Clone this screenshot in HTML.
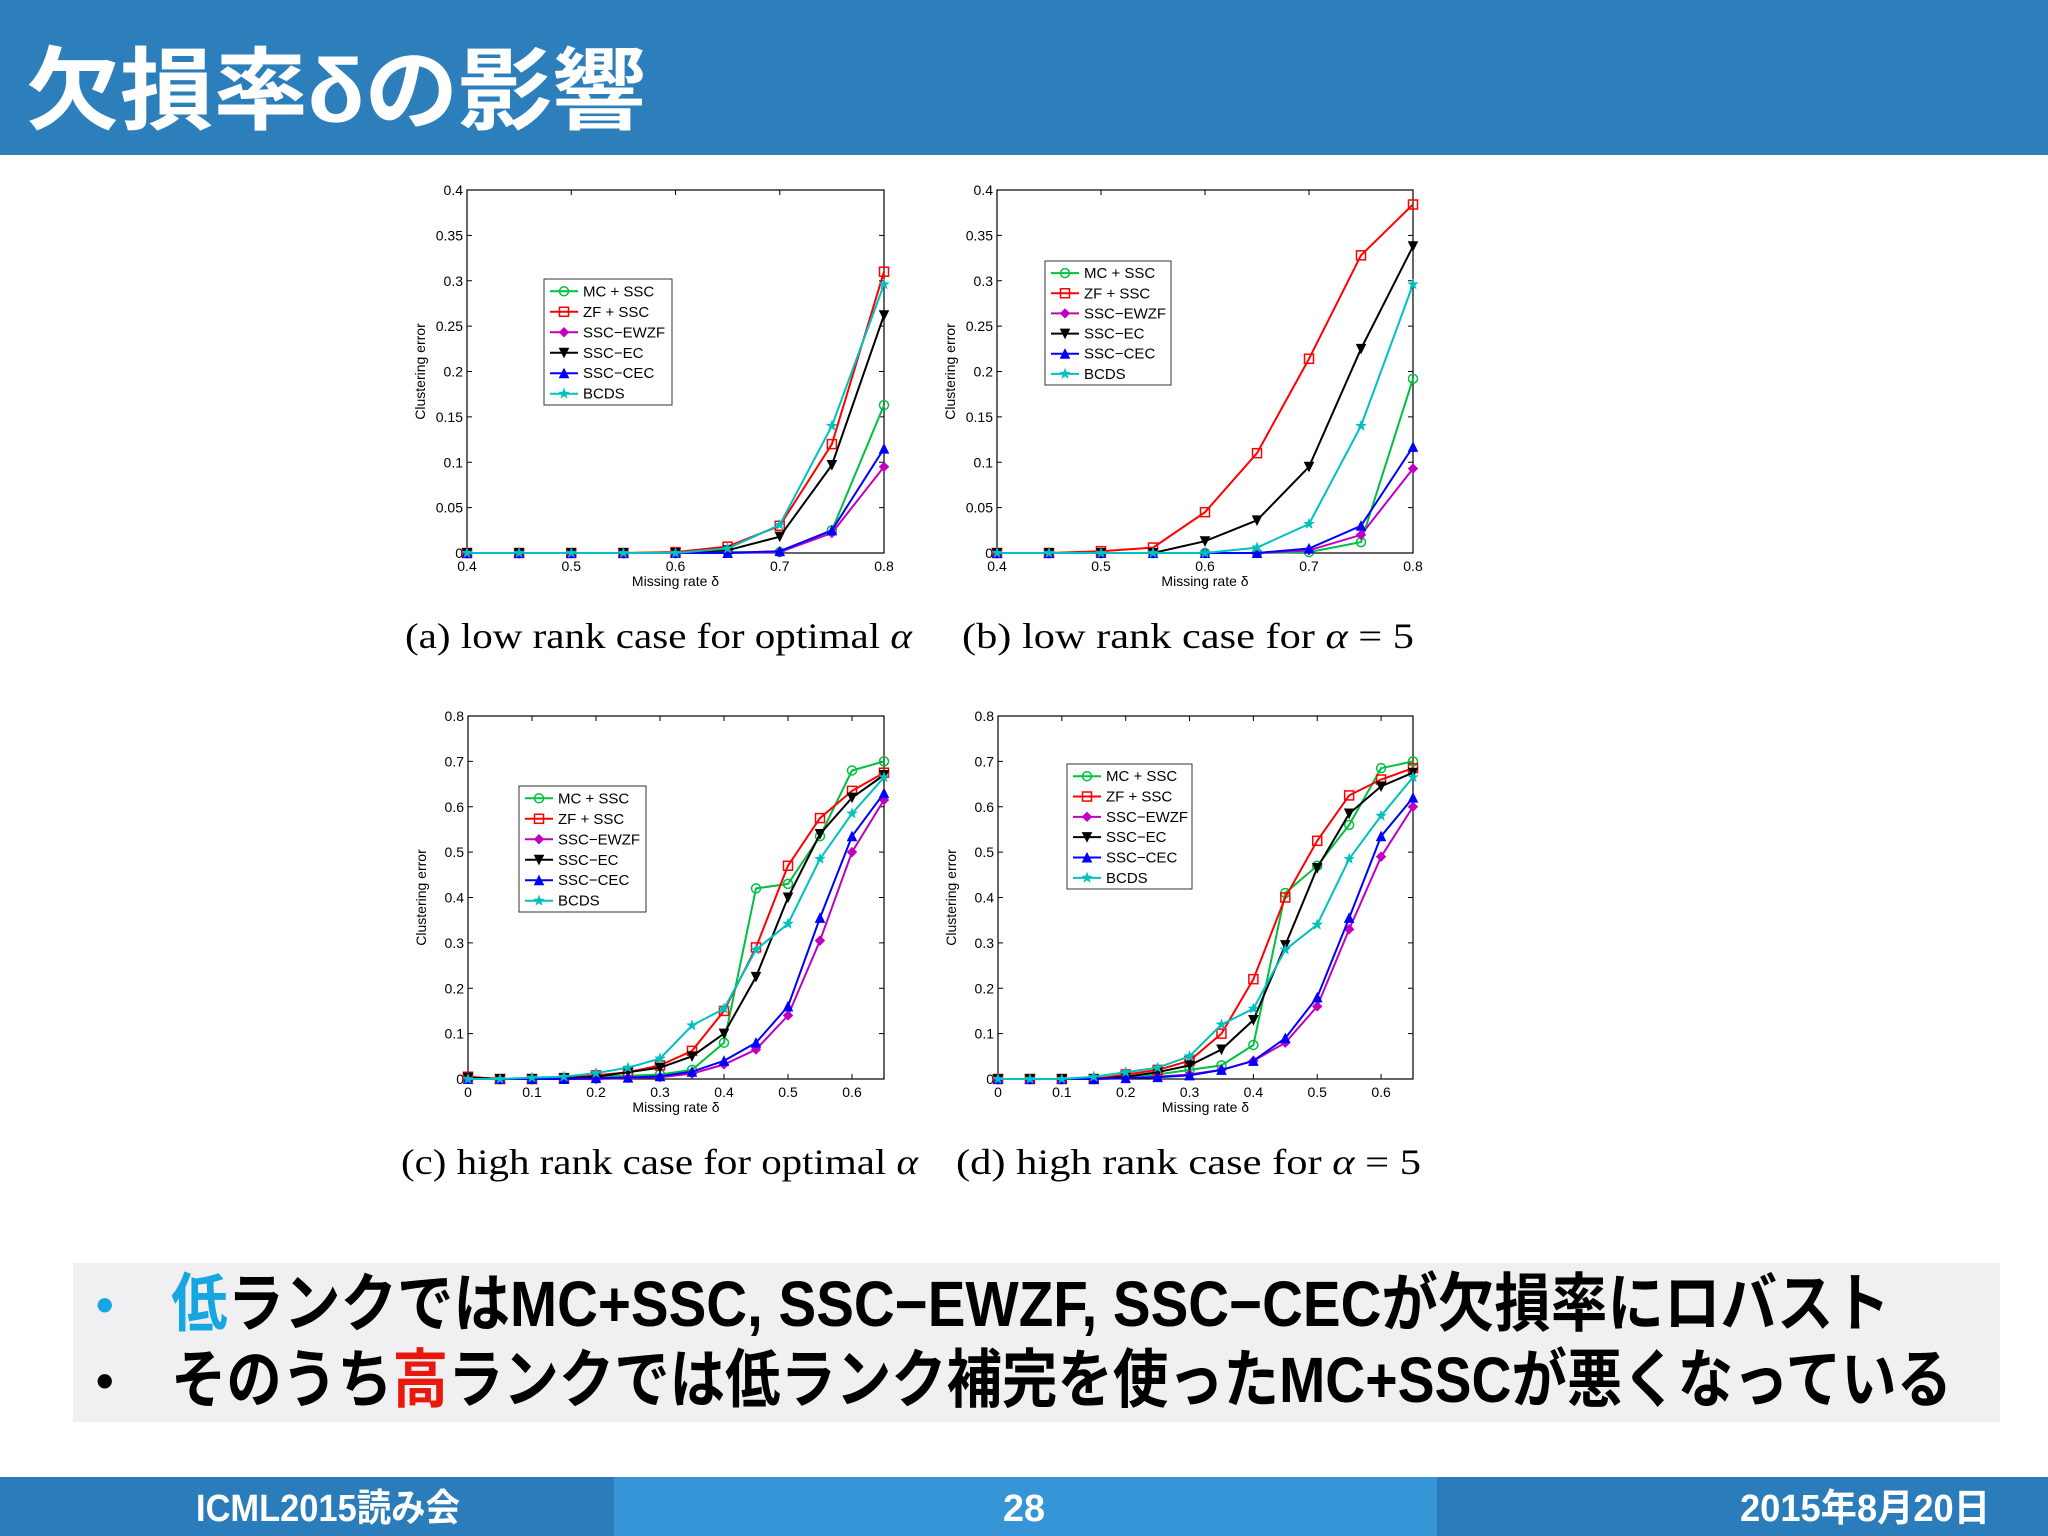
<!DOCTYPE html>
<html><head><meta charset="utf-8"><style>
html,body{margin:0;padding:0;background:#fff;}
svg{display:block;}
.jp{font-family:"Liberation Sans","Noto Sans CJK JP",sans-serif;font-weight:bold;}
.ax{font-family:"Liberation Sans",sans-serif;}
.cap{font-family:"Liberation Serif",serif;}
</style></head><body>
<svg id="s" width="2048" height="1536" viewBox="0 0 2048 1536" xmlns="http://www.w3.org/2000/svg">
<rect x="0" y="0" width="2048" height="155" fill="#2d7fbc"/>
<text class="jp" x="26" y="122" font-size="90" fill="#fff" textLength="620" lengthAdjust="spacingAndGlyphs">欠損率δの影響</text>
<rect x="73" y="1263" width="1927" height="159" fill="#f0f0f2"/>
<text class="jp" x="96" y="1322" font-size="50" fill="#17a7e0">•</text>
<text class="jp" x="96" y="1398" font-size="50" fill="#000">•</text>
<text class="jp" x="171" y="1326" font-size="64" textLength="1719" lengthAdjust="spacingAndGlyphs"><tspan fill="#17a7e0">低</tspan><tspan fill="#000">ランクではMC+SSC, SSC−EWZF, SSC−CECが欠損率にロバスト</tspan></text>
<text class="jp" x="171" y="1402" font-size="64" textLength="1781" lengthAdjust="spacingAndGlyphs"><tspan fill="#000">そのうち</tspan><tspan fill="#e8180c">高</tspan><tspan fill="#000">ランクでは低ランク補完を使ったMC+SSCが悪くなっている</tspan></text>
<rect x="0" y="1477" width="614" height="59" fill="#2b7cba"/>
<rect x="614" y="1477" width="823" height="59" fill="#3595d7"/>
<rect x="1437" y="1477" width="611" height="59" fill="#2b7cba"/>
<text class="jp" x="196" y="1521" font-size="38" fill="#fff" textLength="264" lengthAdjust="spacingAndGlyphs">ICML2015読み会</text>
<text class="jp" x="1003" y="1521" font-size="38" fill="#fff" textLength="42" lengthAdjust="spacingAndGlyphs">28</text>
<text class="jp" x="1740" y="1521" font-size="38" fill="#fff" textLength="250" lengthAdjust="spacingAndGlyphs">2015年8月20日</text>
<text class="cap" x="405" y="648" font-size="36" textLength="507" lengthAdjust="spacingAndGlyphs">(a)  low rank case for optimal <tspan font-style="italic">α</tspan></text>
<text class="cap" x="962" y="648" font-size="36" textLength="452" lengthAdjust="spacingAndGlyphs">(b)  low rank case for <tspan font-style="italic">α</tspan> = 5</text>
<text class="cap" x="401" y="1174" font-size="36" textLength="517" lengthAdjust="spacingAndGlyphs">(c)  high rank case for optimal <tspan font-style="italic">α</tspan></text>
<text class="cap" x="956" y="1174" font-size="36" textLength="465" lengthAdjust="spacingAndGlyphs">(d)  high rank case for <tspan font-style="italic">α</tspan> = 5</text>
</svg>
<script>
const seriesNames = ["MC + SSC","ZF + SSC","SSC−EWZF","SSC−EC","SSC−CEC","BCDS"];
const seriesColors = ["#00c040","#ff0000","#c000c0","#000000","#0000ff","#00c0c0"];
const xLow = [0.4,0.45,0.5,0.55,0.6,0.65,0.7,0.75,0.8];
const xHigh = [0,0.05,0.1,0.15,0.2,0.25,0.3,0.35,0.4,0.45,0.5,0.55,0.6,0.65];
const aMC   = [0,0,0,0,0,0.001,0.001,0.025,0.163];
const aZF   = [0,0,0,0,0.001,0.007,0.03,0.12,0.31];
const aEWZF = [0,0,0,0,0,0,0.001,0.022,0.095];
const aEC   = [0,0,0,0,0,0.003,0.018,0.097,0.262];
const aCEC  = [0,0,0,0,0,0,0.002,0.025,0.115];
const aBCDS = [0,0,0,0,0,0.005,0.031,0.14,0.296];
const bMC   = [0,0,0,0,0,0,0.001,0.012,0.192];
const bZF   = [0,0,0.002,0.006,0.045,0.11,0.214,0.328,0.384];
const bEWZF = [0,0,0,0,0,0,0.003,0.02,0.093];
const bEC   = [0,0,0,0,0.013,0.036,0.095,0.225,0.338];
const bCEC  = [0,0,0,0,0,0,0.005,0.03,0.117];
const bBCDS = [0,0,0,0,0,0.006,0.032,0.14,0.296];
const cMC   = [0.003,0,0,0.002,0.005,0.007,0.01,0.02,0.08,0.42,0.43,0.535,0.68,0.70];
const cZF   = [0.005,0,0,0.002,0.008,0.015,0.03,0.062,0.15,0.29,0.47,0.575,0.635,0.675];
const cEWZF = [0,0,0,0,0,0.002,0.004,0.012,0.032,0.065,0.14,0.305,0.5,0.615];
const cEC   = [0.003,0,0,0.002,0.005,0.015,0.025,0.05,0.1,0.225,0.4,0.54,0.62,0.67];
const cCEC  = [0,0,0,0,0.002,0.003,0.006,0.016,0.04,0.08,0.16,0.355,0.535,0.63];
const cBCDS = [0,0,0.003,0.005,0.013,0.025,0.045,0.118,0.155,0.285,0.342,0.485,0.585,0.665];
const dMC   = [0,0,0,0,0.005,0.01,0.02,0.03,0.075,0.41,0.47,0.56,0.685,0.70];
const dZF   = [0,0,0,0,0.01,0.02,0.04,0.10,0.22,0.40,0.525,0.625,0.66,0.685];
const dEWZF = [0,0,0,0,0.002,0.005,0.01,0.02,0.04,0.08,0.16,0.33,0.49,0.60];
const dEC   = [0,0,0,0,0.005,0.015,0.03,0.065,0.13,0.295,0.465,0.585,0.645,0.675];
const dCEC  = [0,0,0,0,0.002,0.004,0.008,0.02,0.04,0.09,0.18,0.355,0.535,0.62];
const dBCDS = [0,0,0,0.005,0.015,0.025,0.05,0.12,0.155,0.285,0.34,0.485,0.58,0.665];
const xTicksLow = ["0.4","0.5","0.6","0.7","0.8"];
const xTicksHigh = ["0","0.1","0.2","0.3","0.4","0.5","0.6"];
const yTicksLow = ["0","0.05","0.1","0.15","0.2","0.25","0.3","0.35","0.4"];
const yTicksHigh = ["0","0.1","0.2","0.3","0.4","0.5","0.6","0.7","0.8"];

const NS="http://www.w3.org/2000/svg";
const svg=document.getElementById('s');
function mk(tag,attrs,parent){const e=document.createElementNS(NS,tag);for(const k in attrs)e.setAttribute(k,attrs[k]);(parent||svg).appendChild(e);return e;}

function marker(g,i,x,y,c){
  let e;const r=4.5;
  if(i===0){e=mk('circle',{cx:x,cy:y,r:r,fill:'none',stroke:c,'stroke-width':1.5},g);}
  else if(i===1){e=mk('rect',{x:x-r,y:y-r,width:2*r,height:2*r,fill:'none',stroke:c,'stroke-width':1.5},g);}
  else if(i===2){e=mk('polygon',{points:`${x},${y-r} ${x+r},${y} ${x},${y+r} ${x-r},${y}`,fill:c,stroke:c},g);}
  else if(i===3){e=mk('polygon',{points:`${x-r},${y-r} ${x+r},${y-r} ${x},${y+r}`,fill:c,stroke:c},g);}
  else if(i===4){e=mk('polygon',{points:`${x-r},${y+r} ${x+r},${y+r} ${x},${y-r}`,fill:c,stroke:c},g);}
  else {let p=[];for(let k=0;k<10;k++){const a=-Math.PI/2+k*Math.PI/5;const rr=k%2?2.2:5.5;p.push((x+rr*Math.cos(a)).toFixed(1)+','+(y+rr*Math.sin(a)).toFixed(1));}
    e=mk('polygon',{points:p.join(' '),fill:c,stroke:c,'stroke-width':0.5},g);}
  
  
}

function chart(id,L,T,W,H,xmin,xmax,ymax,xs,series,xt,yt,leg){
  const g=mk('g',{});
  
  
  const sx=v=>L+(v-xmin)/(xmax-xmin)*W;
  const sy=v=>T+H-(v/ymax)*H;
  const box=mk('rect',{x:L,y:T,width:W,height:H,fill:'#fff',stroke:'#000','stroke-width':1.2},g);
  
  
  yt.forEach(t=>{const v=parseFloat(t),y=sy(v);
    mk('line',{x1:L,y1:y,x2:L+5,y2:y,stroke:'#000'},g);mk('line',{x1:L+W,y1:y,x2:L+W-5,y2:y,stroke:'#000'},g);
    const tx=mk('text',{x:L-4,y:y+5,'text-anchor':'end','font-size':14,class:'ax'},g);tx.textContent=t;
    
    });
  xt.forEach(t=>{const v=parseFloat(t),x=sx(v);
    mk('line',{x1:x,y1:T+H,x2:x,y2:T+H-5,stroke:'#000'},g);mk('line',{x1:x,y1:T,x2:x,y2:T+5,stroke:'#000'},g);
    const tx=mk('text',{x:x,y:T+H+18,'text-anchor':'middle','font-size':14,class:'ax'},g);tx.textContent=t;
    
    });
  const xl=mk('text',{x:L+W/2,y:T+H+33,'text-anchor':'middle','font-size':14,class:'ax'},g);xl.textContent='Missing rate δ';
  
  
  const yl=mk('text',{x:0,y:0,'text-anchor':'middle','font-size':14,class:'ax',transform:`translate(${L-42},${T+H/2}) rotate(-90)`},g);yl.textContent='Clustering error';
  
  
  series.forEach((ys,i)=>{
    const sg=mk('g',{},g);
    
    
    const pts=ys.map((v,k)=>sx(xs[k]).toFixed(1)+','+sy(v).toFixed(1)).join(' ');
    const pl=mk('polyline',{points:pts,fill:'none',stroke:seriesColors[i],'stroke-width':2},sg);
    
    
    ys.forEach((v,k)=>marker(sg,i,sx(xs[k]),sy(v),seriesColors[i]));
  });
  const lg=mk('g',{},g);
  
  
  mk('rect',{x:leg[0],y:leg[1],width:leg[2],height:leg[3],fill:'#fff',stroke:'#333','stroke-width':1},lg);
  const step=leg[3]/6.15;
  seriesNames.forEach((n,i)=>{const y=leg[1]+step*(i+0.6);
    const ent=mk('g',{},lg);
    
    
    mk('line',{x1:leg[0]+6,y1:y,x2:leg[0]+34,y2:y,stroke:seriesColors[i],'stroke-width':2},ent);
    marker(ent,i,leg[0]+20,y,seriesColors[i]);
    const t=mk('text',{x:leg[0]+39,y:y+5,'font-size':15,class:'ax'},ent);t.textContent=n;});
}
chart('a',467,190,417,363,0.4,0.8,0.4,xLow,[aMC,aZF,aEWZF,aEC,aCEC,aBCDS],xTicksLow,yTicksLow,[544,279,128,126]);
chart('b',997,190,416,363,0.4,0.8,0.4,xLow,[bMC,bZF,bEWZF,bEC,bCEC,bBCDS],xTicksLow,yTicksLow,[1045,261,126,124]);
chart('c',468,716,416,363,0,0.65,0.8,xHigh,[cMC,cZF,cEWZF,cEC,cCEC,cBCDS],xTicksHigh,yTicksHigh,[519,786,127,126]);
chart('d',998,716,415,363,0,0.65,0.8,xHigh,[dMC,dZF,dEWZF,dEC,dCEC,dBCDS],xTicksHigh,yTicksHigh,[1067,764,125,125]);
</script>
</body></html>
